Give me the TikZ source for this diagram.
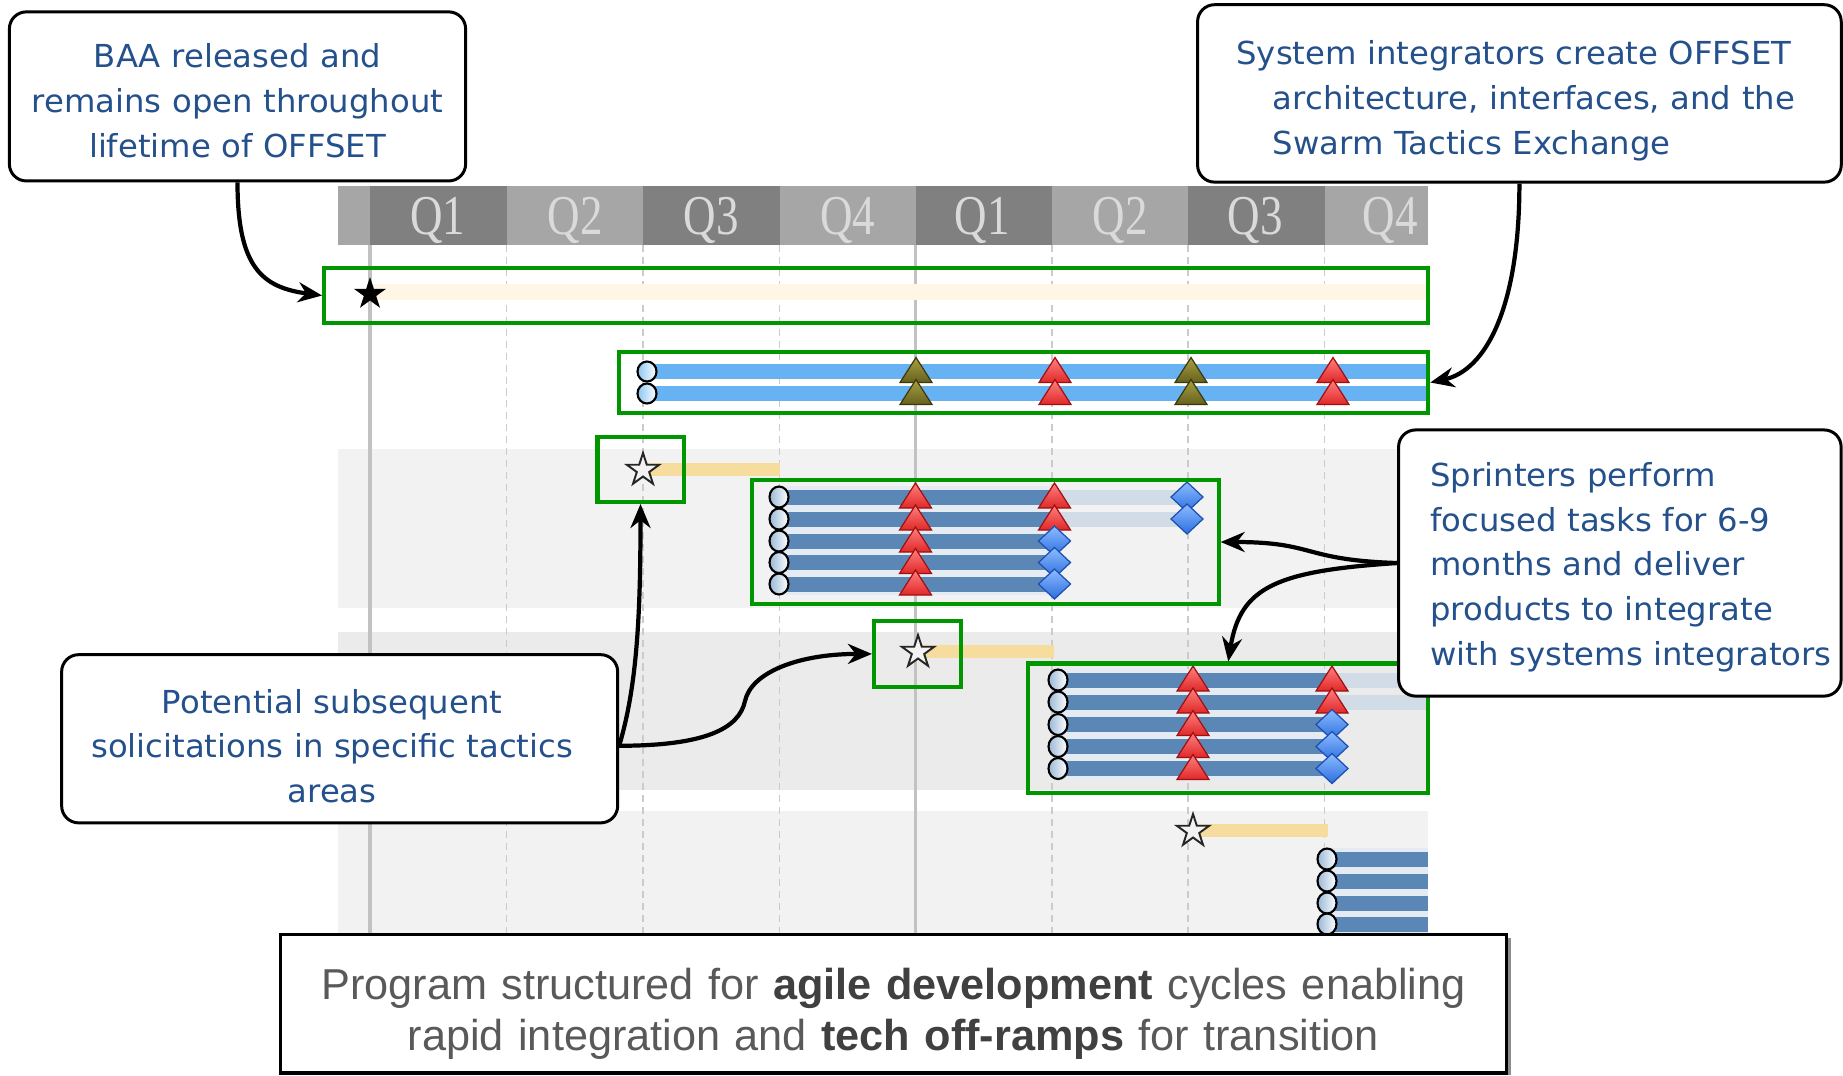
\documentclass[tikz,border=0pt]{standalone}
\usepackage{fontspec}
\usetikzlibrary{arrows.meta}
\newfontfamily\callfont[FakeStretch=1.02]{DejaVu Sans}
\newfontfamily\arialf{Liberation Sans}
\newfontfamily\qfont[FakeStretch=0.8]{Liberation Serif}
\definecolor{hdark}{HTML}{808080}
\definecolor{hlight}{HTML}{A6A6A6}
\definecolor{qtext}{HTML}{DADADA}
\definecolor{bandA}{HTML}{F2F2F2}
\definecolor{bandB}{HTML}{EBEBEB}
\definecolor{gridc}{HTML}{C2C2C2}
\definecolor{gr}{HTML}{009600}
\definecolor{callblue}{HTML}{24508C}
\definecolor{paleyel}{HTML}{FFF6E5}
\definecolor{yelbar}{HTML}{F6DD9E}
\definecolor{skyb}{HTML}{66B2F2}
\definecolor{steel}{HTML}{5A87B5}
\definecolor{steelpale}{HTML}{E4EBF3}
\definecolor{steelext}{HTML}{D2DCE6}
\definecolor{bottxt}{HTML}{595959}
\definecolor{boldtxt}{HTML}{404040}
\definecolor{trired}{HTML}{E02828}
\definecolor{trilight}{HTML}{FF8080}
\definecolor{tridark}{HTML}{A01010}
\definecolor{olivelight}{HTML}{A8A040}
\definecolor{olivedark}{HTML}{66601E}
\definecolor{oliveedge}{HTML}{3C3810}
\definecolor{dialight}{HTML}{8CBCFF}
\definecolor{diadark}{HTML}{2C6EE0}
\definecolor{diaedge}{HTML}{1C4FB0}
\definecolor{ringfill}{HTML}{9AB8D6}
\definecolor{skyring}{HTML}{8CC6F4}
\definecolor{starfill}{HTML}{F2F2F2}
\begin{document}
\begin{tikzpicture}[x=0.01cm, y=-0.01cm,
  gbox/.style={draw=gr, line width=1.15pt, inner sep=0pt},
  callout/.style={draw=black, line width=0.85pt, fill=white, rounded corners=0.17cm, inner sep=0pt,
    font=\callfont\fontsize{9}{12.72}\selectfont, text=callblue},
  botbox/.style={draw=black, line width=0.9pt, fill=white, inner sep=0pt,
    font=\arialf\fontsize{12.3}{14.68}\selectfont, text=bottxt},
  conn/.style={draw=black, line width=1.2pt, -{Stealth[length=0.24cm, width=0.2cm]}},
  qlab/.style={font=\qfont\fontsize{16}{18}\selectfont, text=qtext, anchor=base, inner sep=0pt},
  gridsolid/.style={draw=gridc, line width=1.1pt},
  griddash/.style={draw=gridc!85, line width=0.5pt, dash pattern=on 2pt off 1.4pt},
  ring/.pic={\path[draw=black, line width=0.6pt, left color=ringfill, right color=white] (0,0) ellipse [x radius=0.095cm, y radius=0.105cm];},
  skyringm/.pic={\path[draw=black, line width=0.6pt, left color=skyring, right color=white] (0,0) ellipse [x radius=0.095cm, y radius=0.1cm];},
  redtri/.pic={\path[draw=tridark, line width=0.35pt, top color=trilight, bottom color=trired] (-16,11) -- (0,-14) -- (16,11) -- cycle;},
  olivetri/.pic={\path[draw=oliveedge, line width=0.35pt, top color=olivelight, bottom color=olivedark] (-16,11) -- (0,-14) -- (16,11) -- cycle;},
  bluedia/.pic={\path[draw=diaedge, line width=0.35pt, top color=dialight, bottom color=diadark] (0,-15) -- (16,0) -- (0,15) -- (-16,0) -- cycle;},
  starb/.pic={\path[fill=black] (-90:17) -- (-54:6.5) -- (-18:17) -- (18:6.5) -- (54:17) -- (90:6.5) -- (126:17) -- (162:6.5) -- (198:17) -- (234:6.5) -- cycle;},
  starw/.pic={\path[draw=black!85, line width=0.55pt, fill=starfill] (-90:17) -- (-54:6.5) -- (-18:17) -- (18:6.5) -- (54:17) -- (90:6.5) -- (126:17) -- (162:6.5) -- (198:17) -- (234:6.5) -- cycle;}
]
\useasboundingbox (0,0) rectangle (1843,1075);
\fill[white] (0,0) rectangle (1843,1075);

% header
\foreach \xa/\xb/\cc in {338/370/hlight, 370/506.5/hdark, 506.5/643/hlight, 643/779.5/hdark, 779.5/915.5/hlight, 915.5/1052/hdark, 1052/1188/hlight, 1188/1324.5/hdark, 1324.5/1428/hlight}
  \fill[\cc] (\xa,186) rectangle (\xb,245);
\node[qlab] (ha1) at (438,234) {Q1};
\node[qlab] (ha2) at (575,234) {Q2};
\node[qlab] (ha3) at (711,234) {Q3};
\node[qlab] (ha4) at (847.5,234) {Q4};
\node[qlab] (hb1) at (982,234) {Q1};
\node[qlab] (hb2) at (1120,234) {Q2};
\node[qlab] (hb3) at (1255,234) {Q3};
\node[qlab] (hb4) at (1390,234) {Q4};

% background bands
\fill[bandA] (338,449) rectangle (1428,608);
\fill[bandB] (338,632) rectangle (1428,790);
\fill[bandA] (338,811) rectangle (1428,934);

% grid lines
\draw[gridsolid] (370,245) -- (370,934);
\draw[gridsolid] (915.5,245) -- (915.5,934);
\foreach \gx in {506.5,643,779.5,1052,1188,1324.5}
  \draw[griddash] (\gx,245) -- (\gx,934);

% row 1
\fill[paleyel] (370,284) rectangle (1428,300);
\pic at (370,294) {starb};

% row 2
\fill[skyb] (647,364) rectangle (1428,379);
\fill[skyb] (647,386) rectangle (1428,401);
\pic at (647,371.5) {skyringm};
\pic at (647,393.5) {skyringm};
\pic at (916,371.5) {olivetri};
\pic at (916,393.5) {olivetri};
\pic at (1055,371.5) {redtri};
\pic at (1055,393.5) {redtri};
\pic at (1191,371.5) {olivetri};
\pic at (1191,393.5) {olivetri};
\pic at (1333,371.5) {redtri};
\pic at (1333,393.5) {redtri};

% yellow bars
\fill[yelbar] (643,463) rectangle (780,476);
\fill[yelbar] (918,645) rectangle (1054,658);
\fill[yelbar] (1193,824) rectangle (1328,837);

% group 1
\fill[steelpale] (779,486) rectangle (1054,595);
\foreach \ry in {497,519,541,562.5,584}
  \fill[steel] (779,{\ry-7.5}) rectangle (1054,{\ry+7.5});
\fill[steelext] (1054,489.5) rectangle (1187,504.5);
\fill[steelext] (1054,511.5) rectangle (1187,526.5);
\foreach \ry in {497,519,541,562.5,584} \pic at (779,\ry) {ring};
\foreach \ry in {497,519,541,562.5,584} \pic at (915.5,\ry) {redtri};
\pic at (1054.5,497) {redtri};
\pic at (1054.5,519) {redtri};
\foreach \ry in {541,562.5,584} \pic at (1054.5,\ry) {bluedia};
\pic at (1187,497) {bluedia};
\pic at (1187,519) {bluedia};

% group 2
\fill[steelpale] (1058,669) rectangle (1332,780);
\foreach \ry in {680,702,724.5,746.5,768.5}
  \fill[steel] (1058,{\ry-7.5}) rectangle (1332,{\ry+7.5});
\fill[steelext] (1332,672.5) rectangle (1428,687.5);
\fill[steelext] (1332,694.5) rectangle (1428,709.5);
\foreach \ry in {680,702,724.5,746.5,768.5} \pic at (1058,\ry) {ring};
\foreach \ry in {680,702,724.5,746.5,768.5} \pic at (1193,\ry) {redtri};
\pic at (1332,680) {redtri};
\pic at (1332,702) {redtri};
\foreach \ry in {724.5,746.5,768.5} \pic at (1332,\ry) {bluedia};

% row 5
\fill[steelpale] (1328,848) rectangle (1428,934);
\foreach \ry in {859,881,903,924}
  \fill[steel] (1328,{\ry-7.5}) rectangle (1428,{\ry+7.5});
\foreach \ry in {859,881,903,924} \pic at (1327,\ry) {ring};

% stars
\pic at (643,470) {starw};
\pic at (918,652) {starw};
\pic at (1193,831) {starw};

% green boxes
\node[gbox, minimum width=11.036cm, minimum height=0.55cm] (r1) at (876.2,295.5) {};
\node[gbox, minimum width=8.086cm, minimum height=0.61cm] (r2) at (1023.7,382.5) {};
\node[gbox, minimum width=0.86cm, minimum height=0.65cm] (sb1) at (640.5,469.4) {};
\node[gbox, minimum width=4.665cm, minimum height=1.24cm] (g1) at (985.25,542) {};
\node[gbox, minimum width=0.87cm, minimum height=0.663cm] (sb2) at (917.5,653.9) {};
\node[gbox, minimum width=3.995cm, minimum height=1.295cm] (g2) at (1228.25,728.25) {};

% callouts
\node[callout, minimum width=4.56cm, minimum height=1.69cm, text width=4.56cm, align=center,
  text height=0.35cm, text depth=0.918cm] (baa) at (237.5,96.4)
  {\mbox{BAA released and}\\\mbox{remains open throughout}\\\mbox{lifetime of OFFSET}};
\node[callout, minimum width=6.433cm, minimum height=1.773cm, text width=6.433cm, align=left,
  text height=0.35cm, text depth=0.918cm] (sys) at (1519.4,93.4)
  {\mbox{\kern0.388cm System integrators create OFFSET}\\\mbox{\kern0.753cm architecture, interfaces, and the}\\\mbox{\kern0.753cm Swarm Tactics Exchange}};
\node[callout, minimum width=4.423cm, minimum height=2.66cm, text width=4.423cm, align=left,
  text height=0.35cm, text depth=1.88cm] (spr) at (1619.85,563)
  {\mbox{\kern0.318cm Sprinters perform}\\\mbox{\kern0.318cm focused tasks for 6-9}\\\mbox{\kern0.318cm months and deliver}\\\mbox{\kern0.318cm products to integrate}\\\mbox{\kern0.318cm with systems integrators}};
\node[callout, minimum width=5.557cm, minimum height=1.681cm, text width=5.557cm, align=center,
  text height=0.35cm, text depth=0.861cm] (pot) at (339.65,738.75)
  {\mbox{Potential subsequent\kern0.15cm}\\\mbox{solicitations in specific tactics\kern0.15cm}\\\mbox{areas\kern0.15cm}};

% bottom box
\draw[draw=black!45, line width=0.9pt] (1509,938) -- (1509,1075);
\node[botbox, minimum width=12.247cm, minimum height=1.385cm, text width=12.247cm, align=center,
  text height=0.40cm, text depth=0.495cm] (prog) at (893.4,1003.75)
  {\mbox{Program structured for \textbf{\color{boldtxt}agile development} cycles enabling}\\\mbox{rapid integration and \textbf{\color{boldtxt}tech off-ramps} for transition}};

% connectors
\draw[conn] (baa.south) .. controls +(0,85) and +(-60,-8) .. (r1.west);
\draw[conn] (sys.south) .. controls +(0,125) and +(55,-12) .. (r2.east);
\draw[conn] ([yshift=-0.07cm]pot.east) .. controls +(18,-60) and +(0,110) .. (sb1.south);
\draw[conn] ([yshift=-0.07cm]pot.east) .. controls +(85,0) and +(-6,28) .. (745,701) .. controls +(6,-28) and +(-75,0) .. (sb2.west);
\draw[conn] (spr.west) .. controls +(-95,-3) and +(95,0) .. (g1.east);
\draw[conn] (spr.west) .. controls +(-120,8) and +(12,-75) .. (g2.north);
\end{tikzpicture}
\end{document}
